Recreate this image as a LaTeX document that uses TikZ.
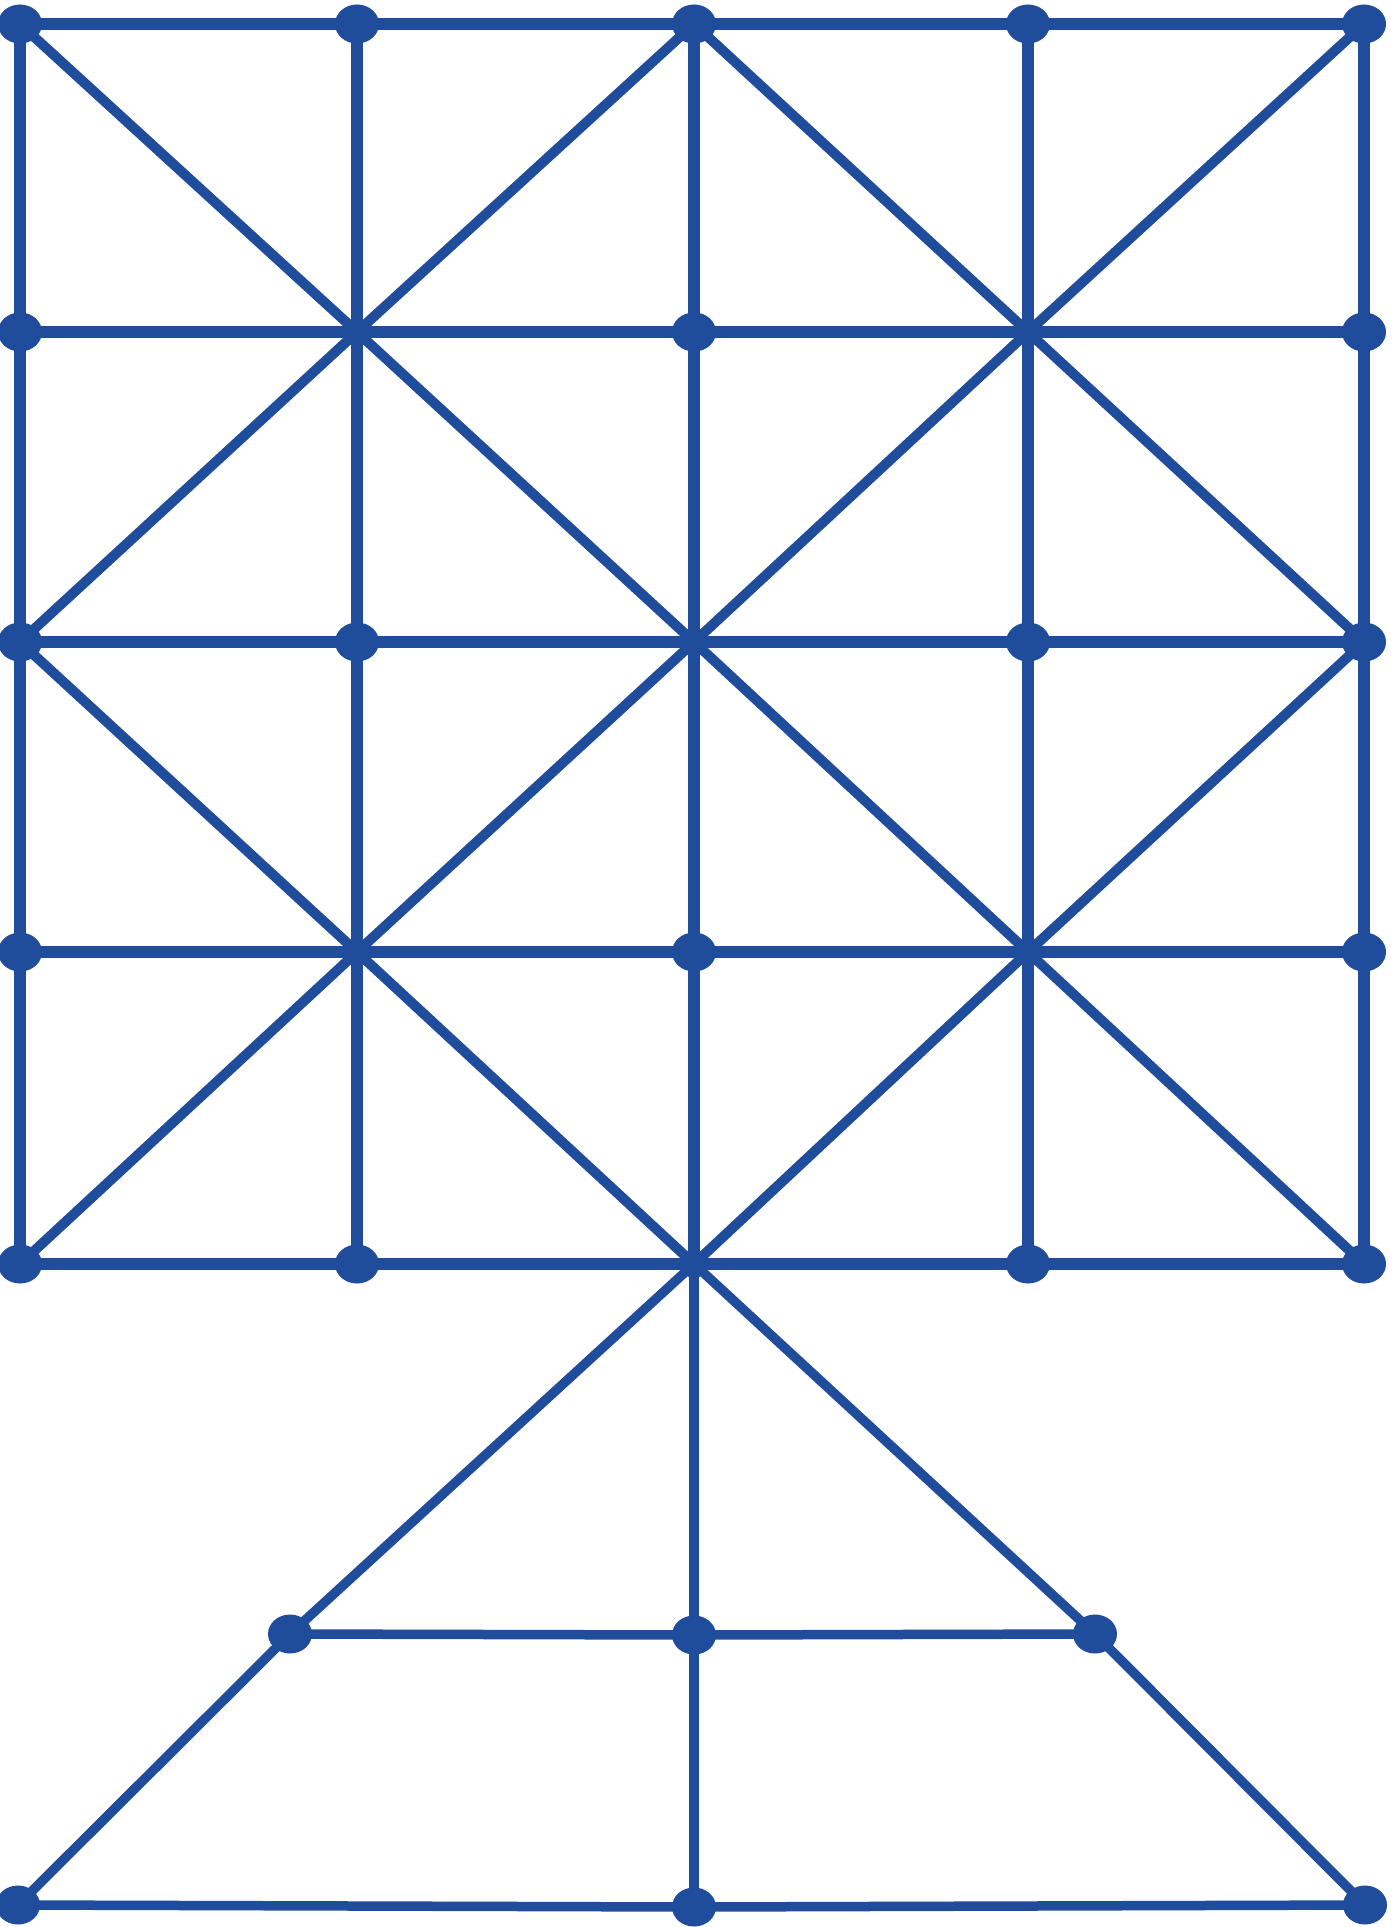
\documentclass[tikz,border=0pt]{standalone}
\usetikzlibrary{shapes.geometric}
\definecolor{gblue}{RGB}{31,76,155}
\tikzset{
  bigdot/.style={ellipse,fill=gblue,draw=none,minimum width=44pt,minimum height=39pt,inner sep=0pt},
  smalldot/.style={circle,fill=gblue,draw=none,minimum size=28pt,inner sep=0pt},
  gridline/.style={draw=gblue,line width=11.5pt},
  diagline/.style={draw=gblue,line width=10pt},
  baseline/.style={draw=gblue,line width=9.5pt}
}
\begin{document}
\begin{tikzpicture}[x=1pt,y=-1pt]
\useasboundingbox (0,0) rectangle (1394,1927);
\fill[white] (0,0) rectangle (1394,1927);
% grid vertices
\node[bigdot] (p00) at (20,24) {};
\node[bigdot] (p01) at (357,24) {};
\node[bigdot] (p02) at (694,24) {};
\node[bigdot] (p03) at (1028,24) {};
\node[bigdot] (p04) at (1364,24) {};
\node[bigdot] (p10) at (20,332) {};
\node[smalldot] (p11) at (357,332) {};
\node[bigdot] (p12) at (694,332) {};
\node[smalldot] (p13) at (1028,332) {};
\node[bigdot] (p14) at (1364,332) {};
\node[bigdot] (p20) at (20,642) {};
\node[bigdot] (p21) at (357,642) {};
\node[smalldot] (p22) at (694,642) {};
\node[bigdot] (p23) at (1028,642) {};
\node[bigdot] (p24) at (1364,642) {};
\node[bigdot] (p30) at (20,952) {};
\node[smalldot] (p31) at (357,952) {};
\node[bigdot] (p32) at (694,952) {};
\node[smalldot] (p33) at (1028,952) {};
\node[bigdot] (p34) at (1364,952) {};
\node[bigdot] (p40) at (20,1264) {};
\node[bigdot] (p41) at (357,1264) {};
\node[smalldot] (p42) at (694,1264) {};
\node[bigdot] (p43) at (1028,1264) {};
\node[bigdot] (p44) at (1364,1264) {};
% lower part
\node[bigdot] (l1) at (290,1634) {};
\node[bigdot] (m1) at (694,1635) {};
\node[bigdot] (r1) at (1095,1634) {};
\node[bigdot] (bl) at (18,1905) {};
\node[bigdot] (bm) at (694,1907) {};
\node[bigdot] (br) at (1365,1905) {};
% horizontal and vertical grid lines
\foreach \r in {0,...,4} {
  \draw[gridline] (p\r0.center) -- (p\r4.center);
}
\foreach \c in {0,...,4} {
  \draw[gridline] (p0\c.center) -- (p4\c.center);
}
% diagonals
\foreach \a/\b in {p00/p11,p02/p11,p02/p13,p04/p13,
                   p20/p11,p22/p11,p22/p13,p24/p13,
                   p20/p31,p22/p31,p22/p33,p24/p33,
                   p40/p31,p42/p31,p42/p33,p44/p33} {
  \draw[diagline] (\a.center) -- (\b.center);
}
% lower structure
\draw[baseline] (p42.center) -- (l1.center) -- (bl.center);
\draw[baseline] (p42.center) -- (r1.center) -- (br.center);
\draw[baseline] (p42.center) -- (m1.center) -- (bm.center);
\draw[baseline] (l1.center) -- (m1.center) -- (r1.center);
\draw[baseline] (bl.center) -- (bm.center) -- (br.center);
\end{tikzpicture}
\end{document}
